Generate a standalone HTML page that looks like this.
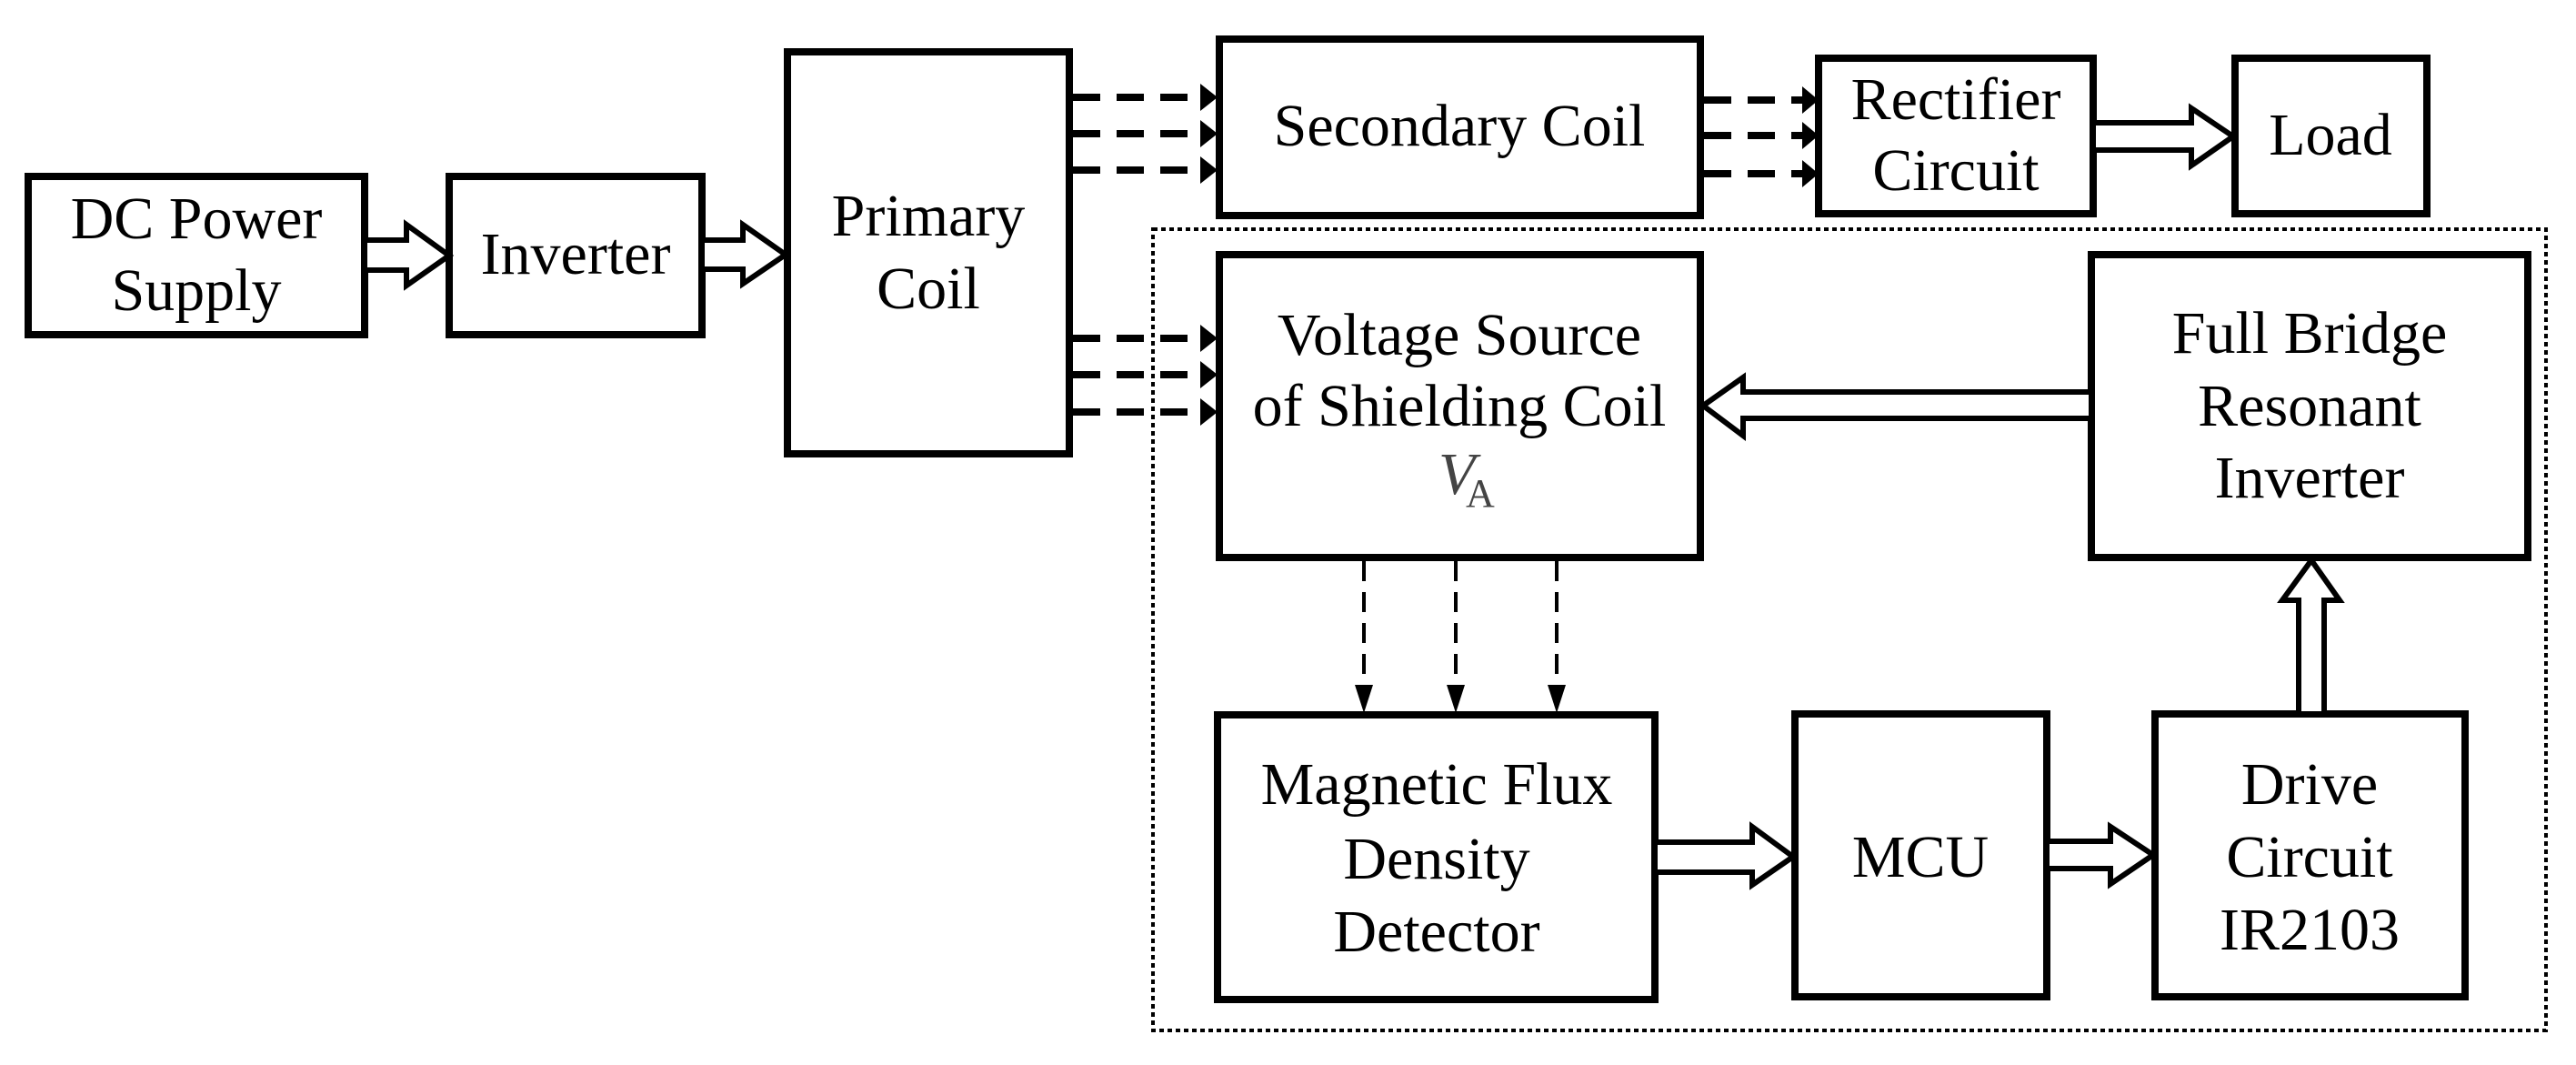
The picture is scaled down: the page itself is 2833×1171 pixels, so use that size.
<!DOCTYPE html>
<html><head><meta charset="utf-8"><style>html,body{margin:0;padding:0;background:#fff}svg{display:block}</style></head>
<body>
<svg width="2833" height="1171" viewBox="0 0 2833 1171" xmlns="http://www.w3.org/2000/svg">
<rect width="2833" height="1171" fill="#fff"/>
<!-- dotted enclosure -->
<rect x="1268" y="252" width="1532" height="881" fill="none" stroke="#000" stroke-width="4" stroke-dasharray="5 4"/>
<g fill="#fff" stroke="#000" stroke-width="8">
<rect x="31" y="194" width="370" height="174"/>
<rect x="494" y="194" width="278" height="174"/>
<rect x="866" y="57" width="310" height="442"/>
<rect x="1341" y="43" width="529" height="194"/>
<rect x="2000" y="64" width="302" height="171"/>
<rect x="2458" y="64" width="211" height="171"/>
<rect x="1341" y="280" width="529" height="333"/>
<rect x="2300" y="280" width="480" height="333"/>
<rect x="1339" y="786" width="481" height="313"/>
<rect x="1974" y="785" width="277" height="311"/>
<rect x="2370" y="785" width="341" height="311"/>
</g>
<!-- hollow arrows -->
<g fill="#fff" stroke="#000" stroke-width="6">
<polygon points="401,264 447,264 447,247 494,281 447,314 447,297 401,297"/>
<polygon points="772,264 817,264 817,247 864,280 817,312 817,296 772,296"/>
<polygon points="2302,135 2410,135 2410,119 2456,150 2410,182 2410,165 2302,165"/>
<polygon points="2300,431 1917,431 1917,415 1873,446 1917,479 1917,460 2300,460"/>
<polygon points="1820,926 1927,926 1927,909 1972,942 1927,973 1927,959 1820,959"/>
<polygon points="2251,925 2321,925 2321,909 2368,940 2321,972 2321,955 2251,955"/>
<polygon points="2528,785 2528,660 2510,660 2542,616 2573,660 2556,660 2556,785"/>
</g>
<!-- dashed connectors -->
<g stroke="#000" stroke-width="8" stroke-dasharray="30 18">
<line x1="1180" y1="107" x2="1322" y2="107"/>
<line x1="1180" y1="147" x2="1322" y2="147"/>
<line x1="1180" y1="187" x2="1322" y2="187"/>
<line x1="1180" y1="372" x2="1322" y2="372"/>
<line x1="1180" y1="412" x2="1322" y2="412"/>
<line x1="1180" y1="453" x2="1322" y2="453"/>
<line x1="1874" y1="110" x2="1984" y2="110"/>
<line x1="1874" y1="149" x2="1984" y2="149"/>
<line x1="1874" y1="191" x2="1984" y2="191"/>
</g>
<g stroke="#000" stroke-width="4" stroke-dasharray="22 12">
<line x1="1500" y1="617" x2="1500" y2="760"/>
<line x1="1601" y1="617" x2="1601" y2="760"/>
<line x1="1712" y1="617" x2="1712" y2="760"/>
</g>
<g fill="#000">
<polygon points="1320,92 1339,107 1320,122"/>
<polygon points="1320,132 1339,147 1320,162"/>
<polygon points="1320,172 1339,187 1320,202"/>
<polygon points="1320,357 1339,372 1320,387"/>
<polygon points="1320,397 1339,412 1320,427"/>
<polygon points="1320,438 1339,453 1320,468"/>
<polygon points="1982,95 2000,110 1982,125"/>
<polygon points="1982,134 2000,149 1982,164"/>
<polygon points="1982,176 2000,191 1982,206"/>
<polygon points="1490,753 1500,784 1510,753"/>
<polygon points="1591,753 1601,784 1611,753"/>
<polygon points="1702,753 1712,784 1722,753"/>
</g>
<g font-family="Liberation Serif, serif" font-size="66" text-anchor="middle" fill="#000">
<text x="216" y="262">DC Power</text><text x="216" y="341">Supply</text>
<text x="633" y="301">Inverter</text>
<text x="1021" y="259">Primary</text><text x="1021" y="339">Coil</text>
<text x="1605" y="160">Secondary Coil</text>
<text x="2151" y="131">Rectifier</text><text x="2151" y="209">Circuit</text>
<text x="2563" y="170">Load</text>
<text x="1605" y="390">Voltage Source</text><text x="1605" y="468">of Shielding Coil</text>
<text x="2540" y="388">Full Bridge</text><text x="2540" y="468">Resonant</text><text x="2540" y="547">Inverter</text>
<text x="1580" y="884">Magnetic Flux</text><text x="1580" y="966">Density</text><text x="1580" y="1046">Detector</text>
<text x="2112" y="964">MCU</text>
<text x="2540" y="884">Drive</text><text x="2540" y="964">Circuit</text><text x="2540" y="1044">IR2103</text>
</g>
<text x="1582" y="543" font-family="Liberation Serif, serif" font-size="66" font-style="italic" fill="#444">V</text>
<text x="1612" y="557" font-family="Liberation Serif, serif" font-size="44" fill="#444">A</text>
</svg>
</body></html>
